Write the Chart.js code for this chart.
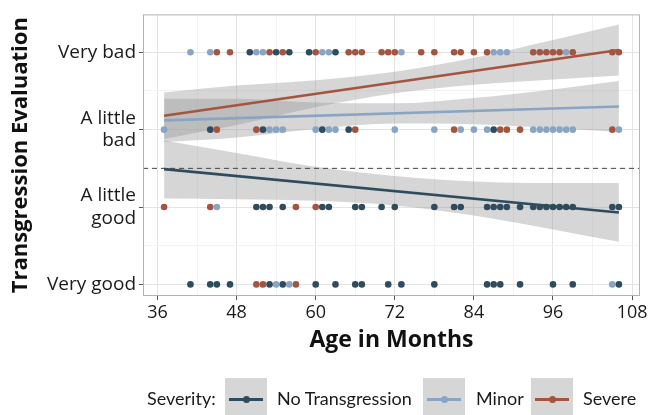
<!DOCTYPE html>
<html lang="en">
<head>
    <meta charset="UTF-8">
    <title>Transgression Evaluation by Age</title>
    <script src="https://cdn.jsdelivr.net/npm/chart.js"></script>
    <style>
        * { margin: 0; padding: 0; box-sizing: border-box; }
        body { background: #ffffff; font-family: Lato, sans-serif; }
        .wrap { position: relative; width: 651px; height: 415px; }
        .legend { position: absolute; left: 0; top: 378px; width: 651px; height: 37px; color: #1a1a1a; font-size: 18px; }
        .legend span { position: absolute; top: 0; line-height: 40px; white-space: nowrap; }
        .key { position: absolute; top: 0; width: 42px; height: 37px; background: #d6d6d6; }
        .key .ln { position: absolute; left: 4px; right: 4px; top: 20px; height: 3px; }
        .key .dot { position: absolute; left: 18px; top: 18px; width: 7px; height: 7px; border-radius: 50%; }
    </style>
</head>
<body>
<div class="wrap">
    <canvas id="chart" width="651" height="415"></canvas>
    <div class="legend" id="legend"></div>
</div>
<script>
    // ratings: 1 = Very good ... 4 = Very bad
    const ratingLabels = ['Very good', ['A little', 'good'], ['A little', 'bad'], 'Very bad'];
    const xTickValues = [36, 42, 48, 54, 60, 66, 72, 78, 84, 90, 96, 102, 108];
    const yTickValues = [1, 1.5, 2, 2.5, 3, 3.5, 4];

    const severities = ['No Transgression', 'Minor', 'Severe'];
    const colors = ['#2f4c5e', '#89a5c3', '#a4553f'];

    // ages (months) of observations per rating, per severity
    const noneVeryBad = [50, 54, 56, 59, 63];
    const minorVeryBad = [41, 44, 51, 52, 61, 62, 73, 87, 88, 89, 98];
    const severeVeryBad = [45, 47, 53, 55, 60, 65, 66, 67, 70, 71, 72, 76, 78, 81, 82, 84, 86, 93, 94, 95, 96, 97, 99, 105, 106];

    const noneLittleBad = [44, 52, 61, 65, 87];
    const minorLittleBad = [37, 53, 54, 55, 60, 62, 63, 72, 78, 82, 84, 86, 93, 94, 95, 96, 97, 98, 99, 106];
    const severeLittleBad = [45, 51, 66, 81, 88, 89, 91, 105];

    const noneLittleGood = [51, 52, 53, 55, 61, 62, 66, 67, 70, 72, 78, 81, 82, 86, 87, 88, 89, 91, 93, 94, 95, 96, 97, 98, 99, 105, 106];
    const minorLittleGood = [45];
    const severeLittleGood = [37, 44, 57, 60];

    const noneVeryGood = [41, 44, 45, 47, 53, 55, 60, 63, 66, 67, 71, 73, 78, 86, 87, 88, 91, 96, 99, 106];
    const minorVeryGood = [54, 56, 105];
    const severeVeryGood = [51, 52, 57];

    // fitted lines and confidence bands
    const fitX = [37, 106];
    const noneFit = [2.49, 1.93];
    const minorFit = [3.12, 3.30];
    const severeFit = [3.18, 4.03];

    const bandX = [37, 48, 60, 72, 84, 96, 106];
    const noneUpper = [2.86, 2.70, 2.52, 2.40, 2.33, 2.31, 2.31];
    const noneLower = [2.11, 2.10, 2.08, 2.02, 1.89, 1.71, 1.55];
    const minorUpper = [3.40, 3.40, 3.35, 3.34, 3.41, 3.52, 3.63];
    const minorLower = [2.84, 2.90, 3.01, 3.08, 3.07, 3.02, 2.97];
    const severeUpper = [3.48, 3.57, 3.64, 3.75, 3.93, 4.16, 4.36];
    const severeLower = [2.88, 3.06, 3.29, 3.47, 3.58, 3.65, 3.70];

    const cutoff = 2.5;
    const xMin = 33.8, xMax = 109.2;

    const pointsBySeverity = [
        [noneVeryGood, noneLittleGood, noneLittleBad, noneVeryBad],
        [minorVeryGood, minorLittleGood, minorLittleBad, minorVeryBad],
        [severeVeryGood, severeLittleGood, severeLittleBad, severeVeryBad]
    ];
    const fits = [noneFit, minorFit, severeFit];
    const uppers = [noneUpper, minorUpper, severeUpper];
    const lowers = [noneLower, minorLower, severeLower];

    const datasets = [];

    // bands
    for (let i = 0; i < 3; i++) {
        datasets.push({
            type: 'line',
            data: bandX.map((x, j) => ({ x: x, y: uppers[i][j] })),
            borderWidth: 0,
            pointRadius: 0,
            backgroundColor: 'rgba(153,153,153,0.4)',
            fill: '+1',
            cubicInterpolationMode: 'monotone',
            order: 5
        });
        datasets.push({
            type: 'line',
            data: bandX.map((x, j) => ({ x: x, y: lowers[i][j] })),
            borderWidth: 0,
            pointRadius: 0,
            fill: false,
            cubicInterpolationMode: 'monotone',
            order: 5
        });
    }

    // points
    for (let i = 0; i < 3; i++) {
        const pts = [];
        pointsBySeverity[i].forEach((ages, r) => {
            ages.forEach(a => pts.push({ x: a, y: r + 1 }));
        });
        datasets.push({
            type: 'scatter',
            data: pts,
            pointRadius: 3.3,
            pointBorderWidth: 0,
            backgroundColor: colors[i],
            order: 3
        });
    }

    // fitted lines
    for (let i = 0; i < 3; i++) {
        datasets.push({
            type: 'line',
            data: fitX.map((x, j) => ({ x: x, y: fits[i][j] })),
            borderColor: colors[i],
            borderWidth: 2.6,
            pointRadius: 0,
            fill: false,
            order: 1
        });
    }

    // cutoff dashed line
    datasets.push({
        type: 'line',
        data: [{ x: xMin, y: cutoff }, { x: xMax, y: cutoff }],
        borderColor: '#444444',
        borderWidth: 1,
        borderDash: [5, 4],
        pointRadius: 0,
        fill: false,
        order: 0
    });

    const panelBorder = {
        id: 'panelBorder',
        afterDraw(chart) {
            const a = chart.chartArea;
            const c = chart.ctx;
            c.save();
            c.strokeStyle = '#b3b3b3';
            c.lineWidth = 1;
            c.strokeRect(a.left + 0.5, a.top + 0.5, a.right - a.left - 1, a.bottom - a.top - 1);
            c.restore();
        }
    };

    const isMajorX = v => (v - 36) % 12 === 0;
    const isMajorY = v => Number.isInteger(v);

    new Chart(document.getElementById('chart'), {
        type: 'scatter',
        data: { datasets: datasets },
        plugins: [panelBorder],
        options: {
            responsive: false,
            animation: false,
            layout: { padding: { top: 12, right: 11, bottom: 61, left: 0 } },
            plugins: { legend: { display: false }, tooltip: { enabled: false } },
            scales: {
                x: {
                    type: 'linear',
                    min: xMin,
                    max: xMax,
                    afterBuildTicks: s => { s.ticks = xTickValues.map(v => ({ value: v })); },
                    afterFit: s => { s.height = 58; },
                    grid: {
                        color: ctx => isMajorX(ctx.tick.value) ? '#e3e3e3' : '#f2f2f2',
                        tickColor: ctx => isMajorX(ctx.tick.value) ? '#555555' : 'rgba(0,0,0,0)',
                        tickLength: 4,
                        lineWidth: 1
                    },
                    border: { display: false },
                    ticks: {
                        autoSkip: false,
                        maxRotation: 0,
                        padding: 2,
                        color: '#1a1a1a',
                        font: { family: 'Open Sans', size: 18 },
                        callback: v => isMajorX(v) ? String(v) : ''
                    },
                    title: {
                        display: true,
                        text: 'Age in Months',
                        color: '#111111',
                        font: { family: 'Open Sans', size: 23, weight: 'bold' },
                        padding: { top: 0, bottom: 0 }
                    }
                },
                y: {
                    type: 'linear',
                    min: 0.85,
                    max: 4.49,
                    afterBuildTicks: s => { s.ticks = yTickValues.map(v => ({ value: v })); },
                    afterFit: s => { s.width = 143; },
                    grid: {
                        color: ctx => isMajorY(ctx.tick.value) ? '#e3e3e3' : '#f2f2f2',
                        tickColor: ctx => isMajorY(ctx.tick.value) ? '#555555' : 'rgba(0,0,0,0)',
                        tickLength: 4,
                        lineWidth: 1
                    },
                    border: { display: false },
                    ticks: {
                        autoSkip: false,
                        padding: 3,
                        color: '#1a1a1a',
                        font: { family: 'Open Sans', size: 19, lineHeight: 1.2 },
                        callback: v => isMajorY(v) ? ratingLabels[v - 1] : ''
                    },
                    title: {
                        display: true,
                        text: 'Transgression Evaluation',
                        color: '#111111',
                        font: { family: 'Open Sans', size: 22, weight: 'bold' },
                        padding: { top: 8, bottom: 0 }
                    }
                }
            }
        }
    });

    // legend (HTML)
    const legend = document.getElementById('legend');
    const keyLeft = [225, 423, 531];
    const textLeft = [277, 476, 583];
    let html = '<span style="left:147px">Severity:</span>';
    severities.forEach((s, i) => {
        html += '<div class="key" style="left:' + keyLeft[i] + 'px"><div class="ln" style="background:' + colors[i] + '"></div>' +
                '<div class="dot" style="background:' + colors[i] + '"></div></div>';
        html += '<span style="left:' + textLeft[i] + 'px">' + s + '</span>';
    });
    legend.innerHTML = html;
</script>
</body>
</html>
